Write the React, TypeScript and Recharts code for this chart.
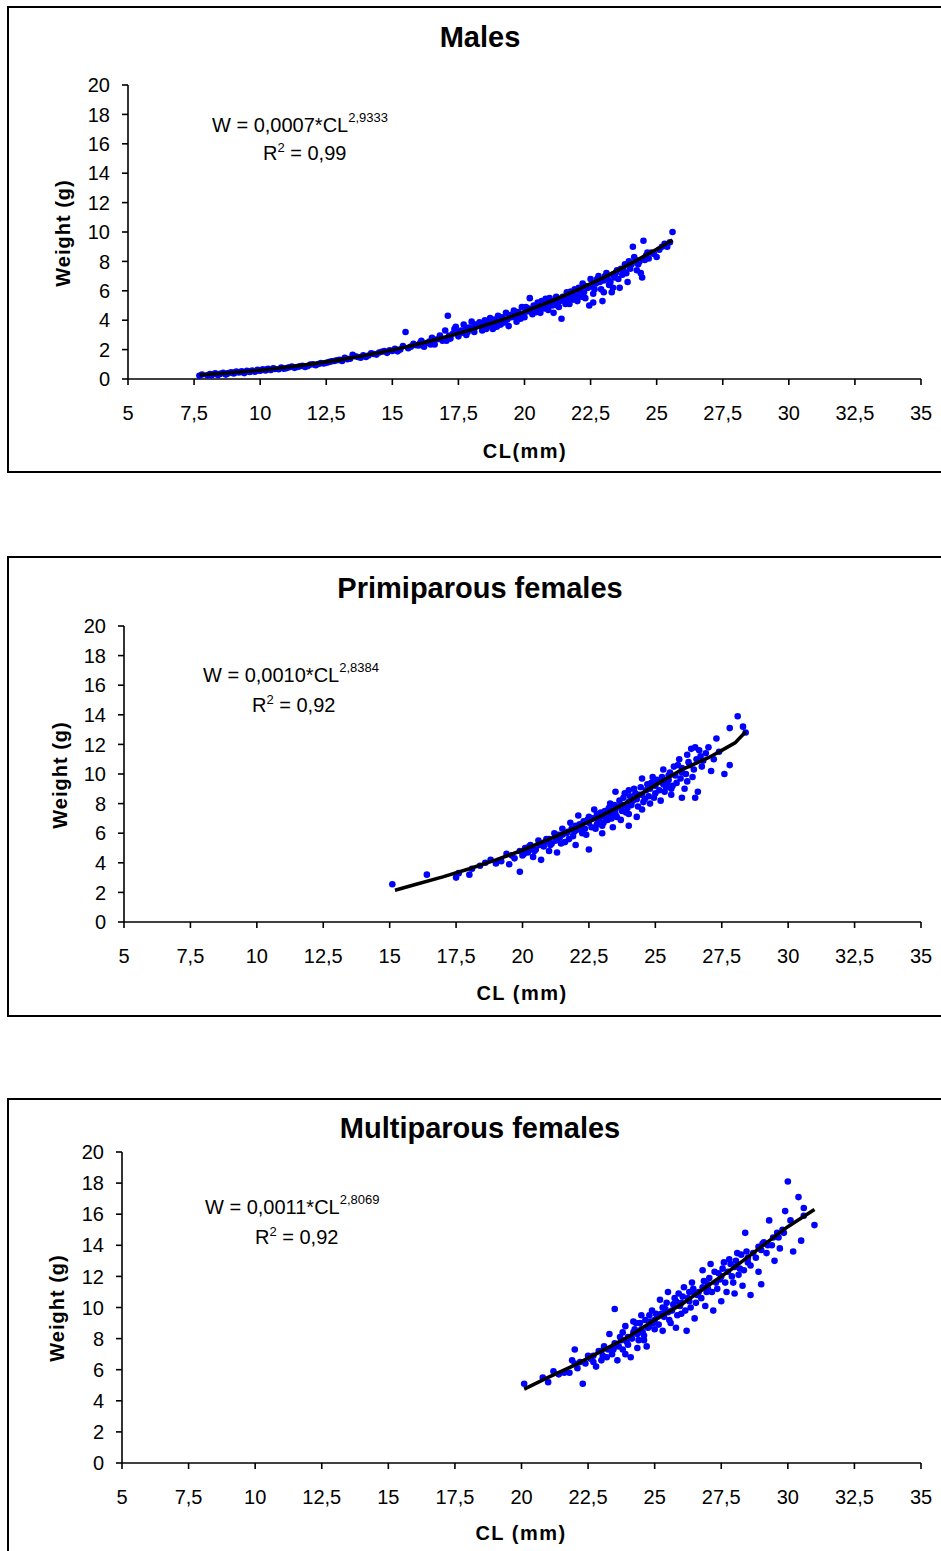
import React from "react";
import { Scatter, ScatterChart, XAxis, YAxis } from "recharts";

const clTicks = [5, 7.5, 10, 12.5, 15, 17.5, 20, 22.5, 25, 27.5, 30, 32.5, 35];
const weightTicks = [0, 2, 4, 6, 8, 10, 12, 14, 16, 18, 20];

// [CL mm, weight g]
const malesPoints: [number, number][] = [
  [7.7, 0.22], [7.8, 0.3], [8.0, 0.26], [8.1, 0.34], [8.2, 0.3], [8.3, 0.38], [8.4, 0.28], [8.5, 0.36],
  [8.6, 0.42], [8.7, 0.3], [8.8, 0.4], [8.9, 0.46], [9.0, 0.38], [9.1, 0.5], [9.2, 0.44], [9.3, 0.52],
  [9.4, 0.4], [9.5, 0.55], [9.6, 0.48], [9.7, 0.58], [9.8, 0.5], [9.9, 0.62], [10.0, 0.56], [10.1, 0.66],
  [10.2, 0.58], [10.3, 0.7], [10.4, 0.62], [10.5, 0.72], [10.7, 0.66], [10.8, 0.78], [11.0, 0.74], [11.2, 0.84],
  [11.3, 0.76], [11.5, 0.86], [11.7, 0.82], [11.9, 0.98], [12.0, 1.0], [12.1, 0.94], [12.3, 1.08], [12.5, 1.1],
  [12.6, 1.15], [12.7, 1.2], [12.9, 1.28], [13.1, 1.22], [13.2, 1.45], [13.4, 1.38], [13.5, 1.65], [13.7, 1.5],
  [13.9, 1.62], [14.0, 1.5], [14.1, 1.6], [14.2, 1.75], [14.4, 1.66], [14.6, 1.85], [14.7, 1.9], [14.8, 1.78],
  [14.9, 1.95], [15.1, 2.05], [15.2, 1.88], [15.3, 2.0], [15.4, 2.25], [15.5, 3.2], [15.6, 2.1], [15.8, 2.4],
  [15.9, 2.3], [16.0, 2.28], [16.1, 2.6], [16.2, 2.2], [16.3, 2.45], [16.4, 2.55], [16.5, 2.8], [16.6, 2.35],
  [16.7, 2.7], [16.8, 2.95], [16.9, 2.6], [17.0, 3.3], [17.05, 2.6], [17.1, 4.3], [17.2, 2.75], [17.3, 3.1],
  [17.35, 3.4], [17.4, 3.55], [17.5, 2.9], [17.6, 3.3], [17.65, 3.15], [17.7, 3.7], [17.8, 3.0], [17.9, 3.5],
  [18.0, 3.9], [18.05, 3.45], [18.1, 3.2], [18.2, 3.6], [18.3, 3.85], [18.35, 3.6], [18.4, 3.3], [18.5, 4.0],
  [18.6, 3.55], [18.65, 3.95], [18.7, 4.15], [18.8, 3.4], [18.9, 3.8], [18.95, 3.55], [19.0, 4.3], [19.1, 3.7],
  [19.2, 4.0], [19.25, 3.85], [19.3, 4.5], [19.4, 3.6], [19.5, 4.2], [19.55, 4.4], [19.6, 4.65], [19.7, 3.9],
  [19.8, 4.4], [19.85, 4.1], [19.9, 4.9], [20.0, 4.2], [20.1, 4.6], [20.15, 4.8], [20.2, 5.5], [20.3, 4.4],
  [20.4, 4.9], [20.45, 4.55], [20.5, 5.2], [20.6, 4.5], [20.7, 5.0], [20.75, 4.8], [20.8, 5.45], [20.9, 4.7],
  [21.0, 5.3], [21.05, 5.0], [21.1, 4.5], [21.2, 5.6], [21.3, 4.9], [21.35, 5.3], [21.4, 4.1], [21.5, 5.4],
  [21.6, 5.9], [21.65, 5.5], [21.7, 5.1], [21.8, 5.7], [21.9, 6.1], [21.95, 5.7], [22.0, 5.3], [22.1, 6.0],
  [22.2, 6.5], [22.25, 5.9], [22.3, 5.5], [22.4, 6.2], [22.45, 5.0], [22.5, 6.8], [22.55, 6.3], [22.6, 5.8],
  [22.7, 6.5], [22.8, 7.0], [22.85, 6.6], [22.9, 6.1], [22.95, 5.3], [23.0, 6.7], [23.1, 7.2], [23.15, 6.8],
  [23.2, 6.4], [23.3, 5.9], [23.4, 6.9], [23.45, 7.2], [23.5, 7.4], [23.6, 6.2], [23.7, 7.1], [23.75, 7.4],
  [23.8, 7.8], [23.9, 6.6], [24.0, 7.5], [24.1, 9.0], [24.2, 8.1], [24.3, 7.8], [24.4, 7.2], [24.5, 9.4],
  [24.6, 8.4], [24.8, 8.6], [25.0, 8.3], [25.2, 9.0], [25.4, 9.0], [25.5, 9.3], [25.6, 10.0],
  [8.15, 0.25], [8.45, 0.33], [8.75, 0.36], [9.05, 0.45], [9.35, 0.46], [9.65, 0.52], [9.95, 0.58], [10.25, 0.64],
  [10.55, 0.68], [10.9, 0.7], [11.1, 0.8], [11.4, 0.82], [11.6, 0.9], [11.8, 0.88], [12.2, 1.02], [12.4, 1.05],
  [12.8, 1.22], [13.0, 1.3], [13.3, 1.35], [13.6, 1.55], [13.8, 1.45], [14.3, 1.7], [14.5, 1.8], [15.0, 1.9],
  [15.7, 2.2], [16.05, 2.45], [16.45, 2.35], [16.85, 2.75], [17.15, 2.95], [17.45, 3.2], [17.75, 3.35], [17.85, 3.2],
  [18.15, 3.7], [18.45, 3.75], [18.55, 3.4], [18.75, 3.65], [18.85, 4.05], [19.05, 3.9], [19.15, 4.2], [19.35, 4.05],
  [19.45, 4.35], [19.65, 4.2], [19.75, 4.55], [19.95, 4.45], [20.05, 4.9], [20.25, 4.65], [20.35, 5.0], [20.55, 4.8],
  [20.65, 5.3], [20.85, 5.1], [20.95, 5.5], [21.15, 5.2], [21.25, 5.0], [21.45, 5.6], [21.55, 5.1], [21.75, 5.95],
  [21.85, 5.4], [22.05, 6.2], [22.15, 5.6], [22.35, 6.3], [22.65, 6.1], [22.75, 6.8], [23.05, 7.0], [23.25, 6.6],
  [23.35, 7.1], [23.55, 6.8], [23.65, 7.5], [23.85, 7.2], [23.95, 8.0], [24.05, 7.8], [24.15, 8.3], [24.25, 7.4],
  [24.35, 8.0], [24.45, 6.9], [24.55, 8.1], [24.65, 8.6], [24.7, 8.2], [24.9, 8.5], [25.1, 8.8], [25.3, 9.2],
  [22.6, 5.2], [23.0, 5.9], [23.35, 6.2],
];

const malesTrend: [number, number][] = [
  [7.7, 0.28], [8, 0.31], [9, 0.44], [10, 0.6], [11, 0.8], [12, 1.03], [13, 1.3], [14, 1.61], [15, 1.97],
  [16, 2.38], [17, 2.85], [18, 3.36], [19, 3.94], [20, 4.58], [21, 5.29], [22, 6.06], [23, 6.91], [24, 7.83],
  [25, 8.83], [25.6, 9.46],
];

const primiparousPoints: [number, number][] = [
  [15.1, 2.55], [16.4, 3.2], [17.5, 3.0], [17.6, 3.3], [18.0, 3.2], [18.1, 3.6], [18.4, 3.8], [18.6, 4.0],
  [18.8, 4.2], [19.0, 3.95], [19.2, 4.1], [19.4, 4.6], [19.5, 3.9], [19.6, 4.5], [19.7, 4.3], [19.9, 4.8],
  [19.9, 3.4], [20.0, 4.5], [20.1, 5.0], [20.2, 4.7], [20.3, 5.2], [20.3, 4.9], [20.4, 4.4], [20.5, 4.9],
  [20.6, 5.5], [20.7, 4.2], [20.8, 5.1], [20.9, 5.6], [21.0, 4.8], [21.0, 5.6], [21.1, 5.3], [21.2, 6.0],
  [21.3, 4.7], [21.4, 5.7], [21.5, 6.3], [21.5, 5.9], [21.6, 5.4], [21.7, 6.1], [21.8, 6.7], [21.9, 5.8],
  [22.0, 6.5], [22.0, 5.2], [22.0, 6.2], [22.1, 7.2], [22.2, 6.2], [22.3, 6.8], [22.4, 5.9], [22.5, 7.1],
  [22.5, 4.9], [22.5, 6.7], [22.6, 6.4], [22.7, 7.6], [22.8, 6.6], [22.8, 7.3], [22.9, 7.0], [23.0, 6.0],
  [23.0, 7.2], [23.1, 7.5], [23.2, 6.9], [23.3, 8.0], [23.3, 7.3], [23.4, 6.4], [23.5, 7.3], [23.5, 8.8],
  [23.5, 7.6], [23.6, 7.8], [23.7, 6.9], [23.8, 8.4], [23.8, 7.9], [23.9, 7.4], [24.0, 8.9], [24.0, 6.5],
  [24.0, 8.1], [24.1, 7.9], [24.2, 9.0], [24.3, 7.1], [24.3, 8.3], [24.4, 8.6], [24.5, 9.7], [24.5, 7.6],
  [24.5, 8.6], [24.6, 8.3], [24.7, 9.3], [24.8, 8.0], [24.8, 9.0], [24.9, 9.8], [25.0, 8.7], [25.0, 9.2],
  [25.1, 9.5], [25.2, 8.2], [25.3, 10.3], [25.3, 9.3], [25.4, 9.1], [25.5, 9.9], [25.5, 9.6], [25.6, 8.6],
  [25.7, 10.5], [25.8, 9.4], [25.9, 11.0], [26.0, 8.4], [26.0, 10.1], [26.0, 10.4], [26.1, 9.0], [26.2, 11.3],
  [26.3, 10.6], [26.4, 9.8], [26.5, 11.8], [26.5, 8.4], [26.6, 8.8], [26.7, 11.2], [26.8, 10.9], [27.0, 11.8],
  [27.1, 10.2], [27.3, 12.4], [27.4, 11.5], [27.6, 10.0], [27.8, 10.6], [27.8, 13.1], [28.1, 13.9], [28.3, 13.2],
  [28.4, 12.8],
  [20.05, 4.6], [20.25, 5.1], [20.45, 4.8], [20.65, 5.2], [20.85, 5.4], [21.05, 5.2], [21.25, 5.5], [21.35, 5.9],
  [21.45, 5.3], [21.65, 6.0], [21.75, 5.6], [21.85, 6.3], [21.95, 6.1], [22.15, 6.6], [22.25, 6.0], [22.35, 6.3],
  [22.45, 6.9], [22.65, 7.0], [22.75, 6.3], [22.85, 6.9], [22.95, 7.4], [23.05, 6.7], [23.15, 7.0], [23.25, 7.7],
  [23.35, 7.0], [23.45, 7.9], [23.55, 7.1], [23.65, 8.2], [23.75, 7.5], [23.85, 8.7], [23.95, 7.7], [24.05, 8.5],
  [24.15, 8.2], [24.25, 8.7], [24.35, 7.8], [24.45, 9.1], [24.55, 8.1], [24.65, 8.9], [24.75, 8.5], [24.85, 9.4],
  [24.95, 8.4], [25.05, 9.6], [25.15, 8.9], [25.25, 9.8], [25.35, 8.8], [25.45, 9.4], [25.55, 10.1], [25.65, 9.2],
  [25.75, 9.9], [25.85, 10.6], [25.95, 9.7], [26.15, 10.0], [26.25, 10.8], [26.35, 11.7], [26.45, 10.3], [26.55, 11.0],
  [26.65, 11.6], [26.75, 10.5], [26.9, 11.4], [27.2, 11.0], [26.2, 9.5], [25.6, 9.0], [24.0, 7.3], [23.0, 6.5],
];

const primiparousTrend: [number, number][] = [
  [15.2, 2.15], [16, 2.55], [17, 3.05], [18, 3.6], [19, 4.2], [20, 4.85], [21, 5.6], [22, 6.35], [23, 7.2],
  [24, 8.15], [25, 9.25], [26, 10.3], [27, 11.1], [27.5, 11.6], [28, 12.1], [28.4, 12.85],
];

const multiparousPoints: [number, number][] = [
  [20.1, 5.1], [20.8, 5.5], [21.0, 5.2], [21.2, 5.9], [21.4, 5.7], [21.6, 5.8], [21.8, 5.8], [21.9, 6.6],
  [22.0, 7.3], [22.0, 6.4], [22.1, 6.1], [22.3, 5.1], [22.4, 6.4], [22.5, 6.9], [22.6, 6.7], [22.7, 6.9],
  [22.8, 6.2], [22.9, 7.2], [23.0, 6.6], [23.0, 7.2], [23.1, 7.5], [23.2, 6.8], [23.3, 8.3], [23.4, 7.0],
  [23.5, 9.9], [23.5, 7.7], [23.5, 7.5], [23.6, 6.6], [23.7, 8.1], [23.8, 7.3], [23.8, 8.4], [23.9, 8.8],
  [24.0, 7.6], [24.0, 8.1], [24.1, 6.8], [24.2, 8.4], [24.2, 9.1], [24.3, 9.0], [24.4, 7.9], [24.5, 9.5],
  [24.5, 8.6], [24.6, 8.2], [24.6, 7.9], [24.7, 7.5], [24.8, 8.8], [24.8, 9.5], [24.9, 9.8], [25.0, 8.6],
  [25.0, 9.2], [25.1, 9.4], [25.2, 10.5], [25.3, 8.5], [25.3, 10.0], [25.4, 9.9], [25.5, 11.0], [25.5, 9.7],
  [25.6, 9.0], [25.7, 10.2], [25.8, 8.7], [25.8, 10.4], [25.9, 10.9], [26.0, 9.6], [26.0, 10.3], [26.1, 11.3],
  [26.2, 8.5], [26.3, 10.4], [26.3, 11.0], [26.4, 11.6], [26.5, 9.3], [26.5, 10.9], [26.6, 10.8], [26.8, 12.4],
  [26.8, 11.3], [26.9, 10.1], [27.0, 11.2], [27.0, 11.5], [27.1, 12.8], [27.2, 9.8], [27.3, 11.6], [27.4, 12.2],
  [27.5, 10.4], [27.5, 12.0], [27.6, 12.9], [27.7, 11.0], [27.8, 13.1], [27.9, 12.0], [28.0, 10.9], [28.0, 12.6],
  [28.1, 13.5], [28.2, 12.5], [28.3, 11.4], [28.4, 14.8], [28.5, 12.9], [28.5, 13.2], [28.6, 10.8], [28.8, 13.2],
  [28.9, 12.3], [29.0, 11.5], [29.0, 13.7], [29.1, 14.2], [29.2, 13.5], [29.3, 15.6], [29.4, 14.0], [29.5, 13.0],
  [29.6, 14.8], [29.7, 13.8], [29.8, 15.0], [29.9, 16.2], [30.0, 18.1], [30.1, 15.6], [30.2, 13.6], [30.4, 17.1],
  [30.5, 14.3], [30.6, 16.4], [30.6, 15.9], [31.0, 15.3],
  [22.2, 6.5], [22.7, 6.5], [23.05, 6.9], [23.25, 7.3], [23.45, 7.3], [23.65, 7.5], [23.75, 7.9], [23.95, 7.8],
  [24.15, 8.0], [24.25, 8.6], [24.35, 8.3], [24.45, 9.0], [24.55, 8.4], [24.65, 9.2], [24.75, 8.7], [24.85, 9.1],
  [24.95, 9.0], [25.05, 9.6], [25.15, 8.9], [25.25, 9.6], [25.35, 9.4], [25.45, 10.3], [25.55, 9.2], [25.65, 9.8],
  [25.75, 10.6], [25.85, 9.5], [25.95, 10.1], [26.05, 10.7], [26.15, 9.8], [26.25, 10.6], [26.35, 10.0], [26.45, 11.2],
  [26.55, 10.3], [26.65, 11.0], [26.75, 10.6], [26.85, 11.7], [26.95, 11.0], [27.05, 11.9], [27.15, 11.0], [27.25, 12.3],
  [27.35, 11.2], [27.45, 11.8], [27.55, 12.5], [27.65, 11.6], [27.75, 12.3], [27.85, 12.8], [27.95, 11.6], [28.05, 13.0],
  [28.15, 12.1], [28.25, 13.4], [28.35, 12.4], [28.45, 13.6], [28.6, 12.7], [28.7, 13.5], [28.9, 13.9], [29.05, 14.1],
  [29.25, 14.0], [29.45, 14.5], [29.65, 14.5], [29.85, 14.8], [23.9, 7.0], [24.35, 7.4],
];

const multiparousTrend: [number, number][] = [
  [20.1, 4.75], [21, 5.5], [22, 6.3], [23, 7.2], [24, 8.1], [25, 9.2], [26, 10.2], [27, 11.4], [28, 12.6],
  [29, 13.9], [30, 15.2], [31, 16.3],
];

const FONT = "'Liberation Sans', Arial, Helvetica, sans-serif";

const toXY = (rows: [number, number][]) => rows.map(([x, y]) => ({ x, y }));
const comma = (v: number) => String(v).replace(".", ",");

const Dot = (props: any) => <circle cx={props.cx} cy={props.cy} r={3.3} fill="#0000ff" />;
const NoDot = () => <g />;

interface PanelProps {
  title: string;
  xTitle: string;
  eqCoef: string;
  eqExp: string;
  r2: string;
  points: [number, number][];
  trend: [number, number][];
  frameTop: number;
  frameHeight: number;
  chartTop: number;
  chartHeight: number;
  margin: { top: number; right: number; bottom: number; left: number };
  titleY: number;
  eqPos: [number, number];
  r2Pos: [number, number];
  yTitlePos: [number, number];
  xTitlePos: [number, number];
}

const centered = (x: number, y: number): React.CSSProperties => ({
  position: "absolute",
  left: x,
  top: y,
  transform: "translate(-50%, -50%)",
  whiteSpace: "nowrap",
  lineHeight: 1,
});

function Panel(p: PanelProps) {
  return (
    <>
      <div
        style={{
          position: "absolute",
          left: 7,
          top: p.frameTop,
          width: 980,
          height: p.frameHeight,
          border: "2px solid #000",
          boxSizing: "border-box",
        }}
      />
      <div style={{ position: "absolute", left: 0, top: p.chartTop }}>
        <ScatterChart width={941} height={p.chartHeight} margin={p.margin}>
          <XAxis
            type="number"
            dataKey="x"
            domain={[5, 35]}
            ticks={clTicks}
            interval={0}
            height={60}
            tickFormatter={comma}
            tickSize={6}
            tickMargin={21}
            axisLine={{ stroke: "#000", strokeWidth: 1.6 }}
            tickLine={{ stroke: "#000", strokeWidth: 1.6 }}
            tick={{ fill: "#000", fontSize: 20, fontFamily: FONT }}
            allowDataOverflow
          />
          <YAxis
            type="number"
            dataKey="y"
            domain={[0, 20]}
            ticks={weightTicks}
            interval={0}
            width={60}
            tickSize={6}
            tickMargin={12}
            axisLine={{ stroke: "#000", strokeWidth: 1.6 }}
            tickLine={{ stroke: "#000", strokeWidth: 1.6 }}
            tick={{ fill: "#000", fontSize: 20, fontFamily: FONT }}
            allowDataOverflow
          />
          <Scatter data={toXY(p.points)} shape={Dot} isAnimationActive={false} />
          <Scatter
            data={toXY(p.trend)}
            shape={NoDot}
            line={{ stroke: "#000", strokeWidth: 3.6 }}
            lineType="joint"
            isAnimationActive={false}
          />
        </ScatterChart>
      </div>
      <div style={{ ...centered(480, p.titleY), fontSize: 29, fontWeight: 700 }}>{p.title}</div>
      <div style={{ position: "absolute", left: p.eqPos[0], top: p.eqPos[1] - 10, fontSize: 20, lineHeight: 1, whiteSpace: "nowrap" }}>
        W = {p.eqCoef}*CL<sup style={{ fontSize: 13, lineHeight: 0, position: "relative", top: -2 }}>{p.eqExp}</sup>
      </div>
      <div style={{ position: "absolute", left: p.r2Pos[0], top: p.r2Pos[1] - 10, fontSize: 20, lineHeight: 1, whiteSpace: "nowrap" }}>
        R<sup style={{ fontSize: 13, lineHeight: 0 }}>2</sup> = {p.r2}
      </div>
      <div
        style={{
          ...centered(p.yTitlePos[0], p.yTitlePos[1]),
          transform: "translate(-50%, -50%) rotate(-90deg)",
          fontSize: 20,
          fontWeight: 700,
          letterSpacing: 1,
        }}
      >
        Weight (g)
      </div>
      <div style={{ ...centered(p.xTitlePos[0], p.xTitlePos[1]), fontSize: 20, fontWeight: 700, letterSpacing: 1.5 }}>
        {p.xTitle}
      </div>
    </>
  );
}

export default function App() {
  return (
    <div
      style={{
        position: "absolute",
        left: 0,
        top: 0,
        width: 941,
        height: 1551,
        overflow: "hidden",
        background: "#fff",
        fontFamily: FONT,
        color: "#000",
      }}
    >
      <Panel
        title="Males"
        xTitle="CL(mm)"
        eqCoef="0,0007"
        eqExp="2,9333"
        r2="0,99"
        points={malesPoints}
        trend={malesTrend}
        frameTop={6}
        frameHeight={467}
        chartTop={0}
        chartHeight={480}
        margin={{ top: 85, right: 20, bottom: 41, left: 68 }}
        titleY={37}
        eqPos={[212, 125]}
        r2Pos={[263, 153]}
        yTitlePos={[63, 233]}
        xTitlePos={[525, 451]}
      />
      <Panel
        title="Primiparous females"
        xTitle="CL (mm)"
        eqCoef="0,0010"
        eqExp="2,8384"
        r2="0,92"
        points={primiparousPoints}
        trend={primiparousTrend}
        frameTop={556}
        frameHeight={461}
        chartTop={540}
        chartHeight={490}
        margin={{ top: 86, right: 20, bottom: 48, left: 64 }}
        titleY={588}
        eqPos={[203, 675]}
        r2Pos={[252, 705]}
        yTitlePos={[60, 775]}
        xTitlePos={[522, 993]}
      />
      <Panel
        title="Multiparous females"
        xTitle="CL (mm)"
        eqCoef="0,0011"
        eqExp="2,8069"
        r2="0,92"
        points={multiparousPoints}
        trend={multiparousTrend}
        frameTop={1098}
        frameHeight={500}
        chartTop={1080}
        chartHeight={471}
        margin={{ top: 72, right: 20, bottom: 28, left: 62 }}
        titleY={1128}
        eqPos={[205, 1207]}
        r2Pos={[255, 1237]}
        yTitlePos={[57, 1308]}
        xTitlePos={[521, 1533]}
      />
    </div>
  );
}
